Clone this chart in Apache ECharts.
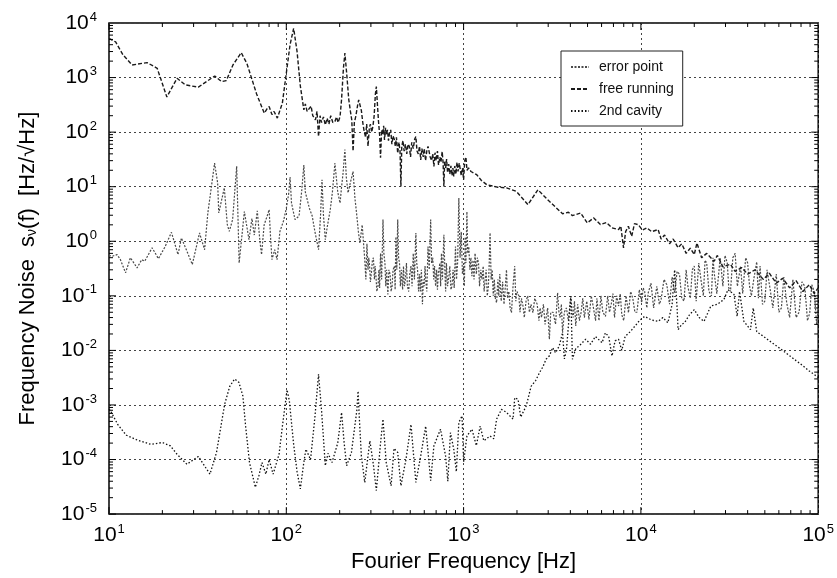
<!DOCTYPE html>
<html>
<head>
<meta charset="utf-8">
<script src="https://cdn.jsdelivr.net/npm/echarts@6/dist/echarts.min.js"></script>
<style>
  html, body { margin: 0; padding: 0; background: #fff; }
  #chart { width: 837px; height: 578px; }
</style>
</head>
<body>
<div id="chart"></div>
<script>
// Frequency noise spectra: [Hz, Hz/sqrt(Hz)]
const seriesNames = ['error point', 'free running', '2nd cavity'];

const freeRunning = [
  [10, 5200], [10.9, 4500], [12, 2600], [13.5, 1700], [16.4, 1880], [18.7, 1480], [21.2, 440],
  [24.2, 970], [26.9, 735], [31.9, 667], [39.5, 1070], [43.1, 845], [45.9, 880], [50, 1700],
  [55.7, 2860], [60, 1800], [63.3, 1040], [68, 500], [75.1, 223], [78, 270], [80, 294], [83, 210],
  [85.3, 239], [89, 181], [95, 340], [100, 1200], [105, 4000], [110, 8000], [115, 3000], [120, 700],
  [125.6, 256], [128, 330], [131, 240], [134, 223], [138, 300], [141, 200], [146, 168], [149, 240],
  [152, 83], [155, 200], [158, 150], [162, 190], [166, 136], [170, 180], [174, 140], [178, 200],
  [183, 150], [188, 157], [192, 190], [196, 150], [201, 193], [205, 400], [210, 1500], [214, 2800],
  [219, 1200], [225, 400], [230, 240], [234, 168], [238, 45], [242, 150], [247, 200], [252, 300],
  [256, 390], [260, 420], [265, 250], [270, 150], [274, 110], [280, 80], [284, 140], [289, 55],
  [294, 120], [298, 140], [303, 100], [308, 127], [313, 200], [318, 500], [322, 684], [327, 300],
  [331, 160], [336, 90], [340, 34], [345, 110], [350, 90], [354, 130], [358, 72], [363, 120],
  [367, 90], [372, 110], [377, 70], [382, 96], [388, 110], [394, 60], [400, 85], [406, 75],
  [412, 55], [418, 80], [425, 41], [432, 65], [438, 45], [443, 10.1], [448, 55], [455, 70],
  [462, 45], [470, 60], [478, 40], [486, 60], [494, 55], [502, 35], [510, 65], [520, 50],
  [530, 75], [538, 83], [546, 45], [555, 40], [564, 55], [573, 31], [582, 50], [592, 35],
  [600, 50], [610, 30], [620, 45], [630, 55], [638, 59], [648, 35], [660, 30], [670, 40],
  [680, 23.5], [690, 42], [700, 30], [712, 45], [722, 25], [735, 35], [745, 28], [757, 44],
  [766, 28], [774, 10.1], [782, 30], [792, 22], [802, 32], [812, 18], [824, 26], [836, 17],
  [848, 24], [860, 16], [870, 22], [880, 15.5], [892, 24], [905, 17], [918, 28], [930, 19],
  [945, 27], [960, 27], [970, 16], [985, 22], [1000, 13.4], [1015, 30], [1030, 35], [1045, 20],
  [1067, 22], [1100, 19], [1186, 16.6], [1260, 13], [1350, 10.9], [1550, 9.8], [1745, 9.5],
  [1985, 8.2], [2307, 4.7], [2624, 8.8], [3044, 5.4], [3615, 3.2], [3900, 3.4], [4110, 2.95],
  [4570, 3.3], [4980, 2.17], [5420, 2.68], [5910, 2.02], [6400, 2.2], [6870, 1.76], [7480, 1.64],
  [7700, 1.9], [7980, 0.757], [8200, 1.5], [8500, 1.88], [8870, 1.23], [9200, 2.1], [9660, 2.02],
  [10200, 1.6], [10800, 1.76], [11500, 1.5], [12500, 1.64], [13000, 1.1], [13600, 1.3],
  [14500, 0.9], [15200, 1.1], [16200, 0.76], [17000, 0.9], [18000, 0.6], [19000, 0.75],
  [20000, 0.57], [20700, 0.93], [22000, 0.5], [23500, 0.6], [25900, 0.43], [27000, 0.55],
  [29000, 0.34], [32000, 0.38], [34000, 0.28], [37000, 0.33], [40000, 0.25], [44000, 0.3],
  [49000, 0.2], [53000, 0.26], [58000, 0.17], [63000, 0.21], [69000, 0.14], [75000, 0.19],
  [82000, 0.12], [89000, 0.16], [95000, 0.11], [100000, 0.14]
];

const errorPoint = [
  [10, 0.55], [10.4, 0.53], [11.1, 0.57], [11.6, 0.46], [12.4, 0.264], [13.2, 0.5], [14.4, 0.326],
  [15.3, 0.46], [15.9, 0.43], [17.5, 0.76], [19, 0.48], [20.7, 0.79], [22.5, 1.46], [24.5, 0.57],
  [25.6, 1.15], [27.3, 0.7], [29.5, 0.375], [32.4, 1.42], [34.6, 0.7], [36.1, 3.3], [39.4, 27],
  [41, 11.7], [41.6, 3.3], [44.7, 9.5], [46.5, 2.0], [47.7, 1.52], [49.8, 2.5], [52.5, 23.6],
  [54.2, 0.4], [58, 3.5], [59, 2.5], [61.6, 1.07], [64, 2.6], [66, 1.3], [68.6, 3.6], [71, 1.0],
  [72.5, 0.57], [75, 2.0], [78, 2.9], [80, 3.8], [81.5, 1.2], [83, 0.46], [86, 0.7], [88.7, 0.46],
  [92, 1.5], [96.6, 2.4], [100, 4], [103, 7.2], [105, 15], [107, 5], [112, 2.5], [118, 2.9],
  [122, 8], [125.6, 25], [128, 8], [131, 7.7], [135, 4], [140, 2.9], [145, 1.5], [152, 0.7],
  [156, 3], [159, 13.4], [162, 3], [166, 1.07], [170, 1.8], [177, 3.8], [182, 8], [188, 27],
  [195, 8], [201, 5], [205, 10], [209, 17.8], [214, 48], [218, 15], [223, 7.7], [230, 12],
  [238, 19], [244, 6], [249, 3.3], [255, 1.5], [260, 0.93], [268, 2],
  [277, 0.46], [281, 0.2], [285, 0.9], [289, 0.3], [292, 0.5], [295, 0.35], [298, 0.18],
  [302, 0.264], [306, 0.45], [310, 0.5], [314, 0.2], [317, 0.35], [320, 0.25], [324, 0.12],
  [329, 0.15], [333, 0.3], [336, 0.14], [340, 0.6], [345, 0.2], [351, 2.5], [355, 0.6], [360, 0.4],
  [364, 0.15], [368, 0.3], [374, 0.106], [379, 0.3], [385, 0.25], [390, 0.12], [395, 0.15],
  [400, 0.3], [407, 0.35], [411, 0.13], [415, 1.2], [420, 0.3], [425, 2.5], [430, 0.5], [435, 0.4],
  [440, 0.15], [446, 0.3], [453, 0.13], [458, 0.35], [464, 0.15], [470, 0.2], [476, 0.4],
  [482, 0.15], [490, 0.12], [497, 0.25], [505, 0.35], [512, 0.15], [520, 0.6], [528, 0.2],
  [538, 1.42], [544, 0.4], [550, 0.3], [557, 0.12], [564, 0.25], [570, 0.12], [578, 0.3],
  [586, 0.07], [593, 0.2], [600, 0.15], [606, 0.35], [611, 0.2], [620, 0.12], [630, 0.8],
  [640, 0.3], [652, 2.5], [660, 0.4], [670, 0.5], [678, 0.2], [686, 0.35], [695, 0.15], [705, 0.3],
  [712, 0.13], [720, 0.25], [735, 0.4], [742, 0.15], [750, 0.6], [760, 0.2], [774, 1.32],
  [785, 0.25], [792, 0.12], [800, 0.4], [812, 0.15], [826, 0.23], [836, 0.35], [848, 0.13],
  [860, 0.15], [872, 0.3], [885, 0.14], [900, 0.8], [912, 0.2], [925, 0.4], [940, 6.2], [955, 0.5],
  [970, 1.5], [985, 0.25], [1000, 0.35], [1010, 0.15], [1020, 1.2], [1030, 0.4], [1044, 3.5],
  [1055, 0.6], [1070, 0.8], [1085, 0.3], [1100, 0.5], [1114, 0.23], [1130, 0.45], [1145, 0.2],
  [1160, 0.6], [1180, 0.25], [1195, 0.5], [1214, 0.4], [1230, 0.15], [1250, 0.3], [1270, 0.2],
  [1290, 0.35], [1305, 0.12], [1321, 0.13], [1340, 0.3], [1360, 0.1], [1380, 0.15], [1395, 0.4],
  [1410, 1.42], [1430, 0.2], [1450, 0.3], [1470, 0.1], [1490, 0.2], [1510, 0.09], [1535, 0.075],
  [1560, 0.2], [1580, 0.1], [1600, 0.25], [1630, 0.08], [1660, 0.18], [1690, 0.07], [1720, 0.15],
  [1745, 0.3], [1770, 0.09], [1800, 0.12], [1830, 0.06], [1862, 0.049], [1900, 0.15], [1942, 0.35],
  [1970, 0.08], [2000, 0.12], [2050, 0.1], [2080, 0.05], [2120, 0.09], [2163, 0.065], [2200, 0.04],
  [2250, 0.08], [2300, 0.1], [2350, 0.05], [2400, 0.07], [2460, 0.049], [2520, 0.09], [2600, 0.07],
  [2660, 0.035], [2700, 0.06], [2750, 0.04], [2820, 0.07], [2880, 0.03], [2918, 0.032],
  [2980, 0.06], [3046, 0.016], [3100, 0.05], [3200, 0.05], [3300, 0.03], [3390, 0.114],
  [3450, 0.05], [3500, 0.04], [3560, 0.07], [3615, 0.021], [3700, 0.05], [3800, 0.06],
  [3900, 0.035], [4025, 0.099], [4100, 0.05], [4150, 0.04], [4220, 0.08], [4290, 0.028],
  [4400, 0.07], [4500, 0.035], [4600, 0.05], [4700, 0.09], [4800, 0.04], [4950, 0.08],
  [5090, 0.037], [5250, 0.1], [5400, 0.06], [5550, 0.035], [5650, 0.09], [5800, 0.035],
  [5950, 0.1], [6100, 0.05], [6310, 0.042], [6500, 0.1], [6650, 0.05], [6800, 0.07], [6950, 0.11],
  [7100, 0.04], [7300, 0.1], [7480, 0.065], [7650, 0.11], [7800, 0.045], [8000, 0.035],
  [8250, 0.1], [8510, 0.049], [8750, 0.12], [9000, 0.09], [9250, 0.05], [9500, 0.05],
  [9800, 0.13], [10100, 0.075], [10300, 0.14], [10500, 0.12], [10800, 0.06], [11000, 0.114],
  [11400, 0.17], [11800, 0.06], [12300, 0.15], [12700, 0.07], [13000, 0.086], [13500, 0.2],
  [14000, 0.16], [14500, 0.07], [15000, 0.22], [15500, 0.114], [16000, 0.28], [16500, 0.25],
  [17000, 0.09], [17500, 0.08], [18000, 0.3], [18400, 0.15], [19000, 0.09], [19500, 0.3],
  [20000, 0.35], [20500, 0.08], [21200, 0.4], [21800, 0.2], [22500, 0.1], [23000, 0.45],
  [23500, 0.4], [24200, 0.12], [25000, 0.1], [25500, 0.5], [25900, 0.264], [26800, 0.11],
  [28000, 0.5], [29000, 0.15], [29800, 0.55], [30700, 0.4], [31300, 0.14], [32000, 0.12],
  [33000, 0.5], [34000, 0.6], [35000, 0.15], [36500, 0.35], [37500, 0.11], [39000, 0.5],
  [40000, 0.4], [41000, 0.15], [42000, 0.1], [43300, 0.2], [45000, 0.42], [46000, 0.09],
  [47000, 0.35], [48500, 0.07], [50000, 0.08], [51500, 0.3], [53600, 0.13], [55500, 0.06],
  [58000, 0.25], [60000, 0.05], [62000, 0.06], [64000, 0.22], [66400, 0.075], [69000, 0.04],
  [72000, 0.2], [75000, 0.04], [78000, 0.05], [81000, 0.18], [84000, 0.15], [87000, 0.035],
  [89600, 0.049], [92000, 0.16], [95000, 0.12], [98000, 0.03], [100000, 0.06]
];

const secondCavity = [
  [10, 8.5e-4], [10.2, 7.8e-4], [11.2, 4.4e-4], [12.5, 2.8e-4], [14.5, 2.26e-4], [17.2, 1.9e-4],
  [20, 2.05e-4], [22.2, 1.78e-4], [24.2, 1.25e-4], [27.5, 8.2e-5], [31.9, 1.14e-4], [37.1, 5.4e-5],
  [40.4, 1.35e-4], [44.9, 1.03e-3], [48, 2.2e-3], [51.1, 3.0e-3], [54, 2.6e-3], [56.9, 1.46e-3],
  [59, 4e-4], [62, 8.8e-5], [66.9, 3.1e-5], [70, 5e-5], [72.9, 8.8e-5], [76.7, 5.4e-5],
  [80, 1.0e-4], [84.3, 5.4e-5], [91, 1.25e-4], [95, 4e-4], [101, 1.9e-3], [104, 1.2e-3],
  [110, 1.9e-4], [115, 6e-5], [120, 2.9e-5], [125, 8e-5], [129, 1.55e-4], [137, 1.0e-4],
  [145, 6e-4], [152, 3.66e-3], [158, 8e-4], [166, 7.7e-5], [172, 1.3e-4], [181, 8.8e-5],
  [195, 2e-4], [205, 7.3e-4], [212, 2e-4], [219, 7.7e-5], [233, 1.35e-4], [250, 8e-4],
  [254, 1.8e-3], [258, 6e-4], [265, 1.17e-4], [277, 3.8e-5], [296, 2.2e-4], [310, 8e-5],
  [322, 2.7e-5], [340, 2e-4], [351, 5.5e-4], [366, 8.8e-5], [390, 3.3e-5], [405, 1.6e-4],
  [425, 1.35e-4], [443, 3.3e-5], [473, 1.0e-4], [505, 4.4e-4], [538, 3.8e-5], [573, 1.17e-4],
  [611, 4.1e-4], [652, 4.1e-5], [680, 1.78e-4], [741, 3.6e-4], [791, 1.17e-4], [815, 4e-5],
  [843, 3.1e-4], [880, 1.55e-4], [910, 6e-5], [940, 4.8e-4], [980, 6.3e-4], [1000, 9e-5],
  [1044, 2.7e-4], [1114, 3.6e-4], [1180, 1.8e-4], [1240, 4.1e-4], [1300, 2.2e-4], [1410, 2.7e-4],
  [1480, 2.4e-4], [1535, 5.5e-4], [1636, 8.3e-4], [1745, 7.3e-4], [1900, 5.5e-4], [1942, 1.36e-3],
  [2028, 1.27e-3], [2100, 6e-4], [2255, 9.6e-4], [2404, 2.2e-3], [2550, 2.8e-3], [2679, 3.9e-3],
  [2800, 5e-3], [2918, 6.9e-3], [3050, 8e-3], [3180, 1.12e-2], [3300, 9e-3], [3460, 1.2e-2],
  [3615, 2.1e-2], [3700, 7e-3], [3800, 1.0e-2], [4025, 0.099], [4110, 6.9e-3], [4300, 1.1e-2],
  [4480, 1.2e-2], [4880, 1.6e-2], [5200, 1.3e-2], [5540, 1.8e-2], [6040, 1.38e-2], [6300, 2.1e-2],
  [6580, 1.8e-2], [6870, 7.9e-3], [7150, 1.5e-2], [7480, 1.6e-2], [7800, 1.0e-2], [8150, 1.8e-2],
  [8700, 2.2e-2], [9270, 2.8e-2], [9800, 3.5e-2], [10500, 4.2e-2], [11500, 3.6e-2], [12500, 3.4e-2],
  [13300, 4e-2], [14200, 3.2e-2], [15000, 0.07], [15500, 0.3], [16000, 0.06], [16200, 2.4e-2],
  [17000, 3e-2], [17600, 3.2e-2], [18800, 4.5e-2], [20000, 5.6e-2], [21300, 4e-2], [22700, 3.4e-2],
  [24800, 6.5e-2], [27000, 7e-2], [29400, 8.6e-2], [31000, 0.13], [33500, 0.106], [34900, 4.2e-2],
  [36000, 0.12], [38100, 3.4e-2], [41500, 2.4e-2], [43000, 0.06], [45000, 2.2e-2], [49200, 1.8e-2],
  [53000, 1.5e-2], [58300, 1.2e-2], [63000, 1.0e-2], [69300, 7.9e-3], [75000, 6.5e-3],
  [82200, 5.2e-3], [89000, 4.2e-3], [97500, 3.4e-3], [100000, 3.2e-3]
];

// axis extents and log tick factors
const xMin = 10, xMax = 1e5;
const yMin = 1e-5, yMax = 1e4;
const tickFactors = [1, 2, 3, 4, 5, 6, 7, 8, 9];

const xTicks = [];
for (let d = 1; d < 5; d++) tickFactors.forEach(m => xTicks.push([m * Math.pow(10, d), yMin, m === 1 ? 1 : 0]));
const yTicks = [];
for (let d = -5; d < 4; d++) tickFactors.forEach(m => yTicks.push([xMin, m * Math.pow(10, d), m === 1 ? 1 : 0]));

const FONT = "'Liberation Sans', Arial, sans-serif";
const pow10 = v => '10{s|' + Math.round(Math.log10(v)) + '}';
const supRich = { s: { fontSize: 13, padding: [0, 0, 12, 1], fontFamily: FONT, color: '#000' } };

const chart = echarts.init(document.getElementById('chart'), null, { renderer: 'canvas' });

chart.setOption({
  backgroundColor: '#fff',
  animation: false,
  textStyle: { fontFamily: FONT, color: '#000' },
  grid: {
    left: 109, right: 12, top: 23, bottom: 63,
    show: true, borderColor: '#000', borderWidth: 1.5, backgroundColor: 'transparent'
  },
  legend: {
    data: seriesNames,
    left: 561, top: 51,
    orient: 'vertical',
    itemWidth: 18, itemHeight: 10, itemGap: 8,
    padding: [9, 9, 8, 9],
    borderColor: '#222', borderWidth: 1,
    backgroundColor: '#fff',
    itemStyle: { opacity: 0 },
    textStyle: { fontSize: 14, color: '#111', padding: [0, 0, 0, 5] }
  },
  xAxis: {
    type: 'log', logBase: 10, min: xMin, max: xMax, interval: 1,
    name: 'Fourier Frequency [Hz]', nameLocation: 'middle', nameGap: 32,
    nameTextStyle: { fontSize: 22, color: '#000' },
    axisLine: { show: false },
    axisTick: { show: false },
    axisLabel: { fontSize: 21, color: '#000', margin: 9, formatter: pow10, rich: supRich },
    splitLine: { show: true, lineStyle: { type: [2, 3], color: '#444', width: 1 } }
  },
  yAxis: {
    type: 'log', logBase: 10, min: yMin, max: yMax, interval: 1,
    name: 'Frequency Noise  s{sub|ν}(f)  [Hz/√Hz]', nameLocation: 'middle', nameGap: 70, nameRotate: 90,
    nameTextStyle: { fontSize: 22, color: '#000', rich: { sub: { fontSize: 14, padding: [8, 0, 0, 0], fontFamily: FONT } } },
    axisLine: { show: false },
    axisTick: { show: false },
    axisLabel: { fontSize: 21, color: '#000', margin: 12, formatter: pow10, rich: supRich },
    splitLine: { show: true, lineStyle: { type: [2, 3], color: '#444', width: 1 } }
  },
  series: [
    {
      name: 'error point', type: 'line', symbol: 'none', z: 3,
      lineStyle: { color: '#4a4a4a', width: 1.2, type: [2, 1.5] },
      itemStyle: { color: '#4a4a4a' },
      data: errorPoint
    },
    {
      name: 'free running', type: 'line', symbol: 'none', z: 4,
      lineStyle: { color: '#1a1a1a', width: 1.4, type: [4, 2] },
      itemStyle: { color: '#1a1a1a' },
      data: freeRunning
    },
    {
      name: '2nd cavity', type: 'line', symbol: 'none', z: 4,
      lineStyle: { color: '#111', width: 1.3, type: [1.5, 2] },
      itemStyle: { color: '#111' },
      data: secondCavity
    },
    {
      // log ticks on bottom and top edges
      type: 'custom', silent: true, z: 5,
      renderItem: (params, api) => {
        const v = api.value(0);
        const len = api.value(2) ? 7 : 4;
        const b = api.coord([v, yMin]);
        const t = api.coord([v, yMax]);
        return { type: 'group', children: [
          { type: 'line', shape: { x1: b[0], y1: b[1], x2: b[0], y2: b[1] - len }, style: { stroke: '#000', lineWidth: 1 } },
          { type: 'line', shape: { x1: t[0], y1: t[1], x2: t[0], y2: t[1] + len }, style: { stroke: '#000', lineWidth: 1 } }
        ] };
      },
      data: xTicks
    },
    {
      // log ticks on left and right edges
      type: 'custom', silent: true, z: 5,
      renderItem: (params, api) => {
        const v = api.value(1);
        const len = api.value(2) ? 7 : 4;
        const l = api.coord([xMin, v]);
        const r = api.coord([xMax, v]);
        return { type: 'group', children: [
          { type: 'line', shape: { x1: l[0], y1: l[1], x2: l[0] + len, y2: l[1] }, style: { stroke: '#000', lineWidth: 1 } },
          { type: 'line', shape: { x1: r[0], y1: r[1], x2: r[0] - len, y2: r[1] }, style: { stroke: '#000', lineWidth: 1 } }
        ] };
      },
      data: yTicks
    }
  ]
});
</script>
</body>
</html>
